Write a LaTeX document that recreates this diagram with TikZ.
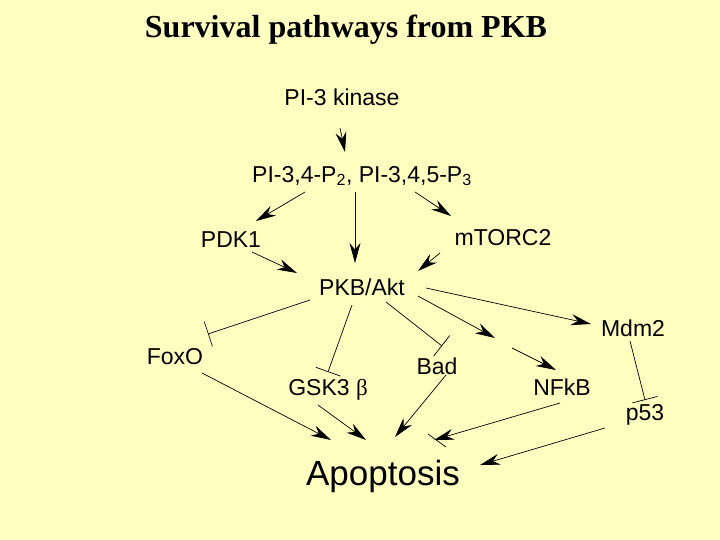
\documentclass[tikz,border=0pt]{standalone}
\usepackage{fontspec}
\setmainfont{Liberation Sans}
\newfontfamily\titlefont{Liberation Serif}
\usetikzlibrary{arrows.meta}
\definecolor{bg}{RGB}{255,255,192}
\begin{document}
\begin{tikzpicture}[x=1pt,y=-1pt,
  lab/.style={font=\fontsize{23}{27}\selectfont, inner sep=1pt},
  act/.style={-{Stealth[length=20pt,width=11pt]}, line width=0.7pt},
  inh/.style={-{Bar[width=26pt]}, line width=0.7pt}]
\fill[bg] (0,0) rectangle (720,540);
\node[font=\titlefont\bfseries\fontsize{32}{36}\selectfont] (title) at (346,30) {Survival pathways from PKB};
\node[lab] (pi3k) at (342,97) {PI-3 kinase};
\node[lab] (pip) at (362,176) {PI-3,4-P\textsubscript{2}, PI-3,4,5-P\textsubscript{3}};
\node[lab] (pdk) at (231,240) {PDK1};
\node[lab] (mtor) at (503,238) {mTORC2};
\node[lab] (pkb) at (362,287) {PKB/Akt};
\node[lab] (foxo) at (175,357) {FoxO};
\node[lab] (mdm) at (633,328) {Mdm2};
\node[lab] (bad) at (437,366) {Bad};
\node[lab] (gsk) at (328,390) {GSK3 {\fontspec{Liberation Serif}β}};
\node[lab] (nfkb) at (562,387) {NFkB};
\node[lab] (p53) at (645,415) {p53};
\node[font=\fontsize{35}{39}\selectfont] (apo) at (383,476) {Apoptosis};
\coordinate (a1) at (340,128); \coordinate (a2) at (345,152);
\draw[act] (a1) -- (a2);
\coordinate (b1) at (305,192); \coordinate (b2) at (256,221);
\draw[act] (b1) -- (b2);
\coordinate (c1) at (355,192); \coordinate (c2) at (355,263);
\draw[act] (c1) -- (c2);
\coordinate (d1) at (415,192); \coordinate (d2) at (451,216);
\draw[act] (d1) -- (d2);
\coordinate (e1) at (252,252); \coordinate (e2) at (297,273);
\draw[act] (e1) -- (e2);
\coordinate (f1) at (440,253); \coordinate (f2) at (418,271);
\draw[act] (f1) -- (f2);
\coordinate (g1) at (310,300); \coordinate (g2) at (208,334);
\draw[inh] (g1) -- (g2);
\coordinate (h1) at (352,305); \coordinate (h2) at (328,372);
\draw[inh] (h1) -- (h2);
\coordinate (i1) at (386,302); \coordinate (i2) at (442,346);
\draw[inh] (i1) -- (i2);
\coordinate (j1) at (418,296); \coordinate (j2) at (495,338);
\draw[act] (j1) -- (j2);
\coordinate (j3) at (512,348); \coordinate (j4) at (556,370);
\draw[act] (j3) -- (j4);
\coordinate (k1) at (426,288); \coordinate (k2) at (591,324);
\draw[act] (k1) -- (k2);
\coordinate (l1) at (630,341); \coordinate (l2) at (645,400);
\draw[inh] (l1) -- (l2);
\coordinate (m1) at (202,373); \coordinate (m2) at (331,440);
\draw[act] (m1) -- (m2);
\coordinate (n1) at (318,405); \coordinate (n2) at (366,440);
\draw[act] (n1) -- (n2);
\coordinate (o1) at (446,375); \coordinate (o2) at (395,437);
\draw[act] (o1) -- (o2);
\coordinate (q1) at (560,403); \coordinate (q2) at (434,440);
\draw[act] (q1) -- (q2);
\draw[line width=0.7pt] (428,434) -- (446,447);
\coordinate (r1) at (605,428); \coordinate (r2) at (480,465);
\draw[act] (r1) -- (r2);
\end{tikzpicture}
\end{document}
